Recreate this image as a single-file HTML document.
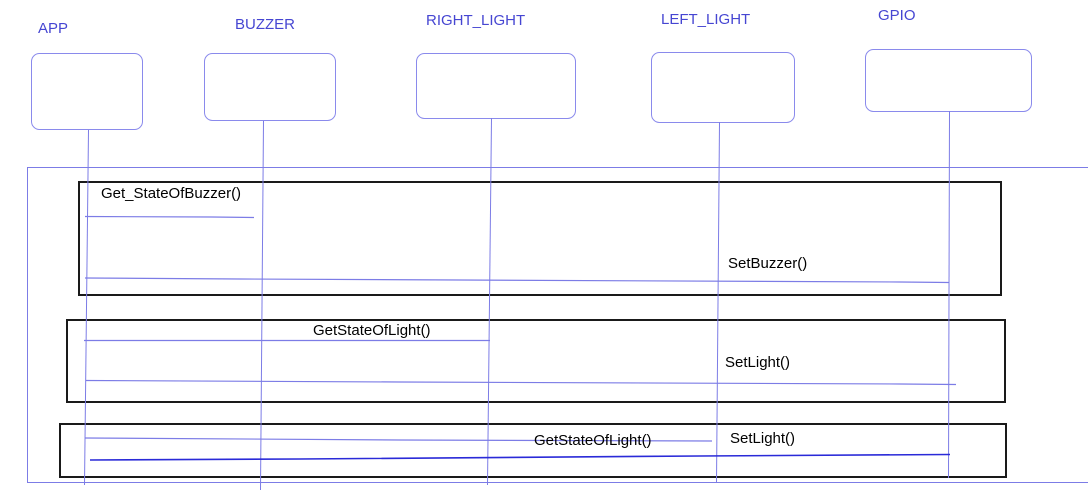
<!DOCTYPE html>
<html><head><meta charset="utf-8"><style>
html,body{margin:0;padding:0;background:#fff;width:1088px;height:494px;overflow:hidden}
svg{display:block}
text{font-family:"Liberation Sans",sans-serif}
</style></head><body>
<svg width="1088" height="494" viewBox="0 0 1088 494">
<g fill="#4646d2" font-size="15">
<text x="38" y="33">APP</text>
<text x="235" y="29">BUZZER</text>
<text x="426" y="25">RIGHT_LIGHT</text>
<text x="661" y="24">LEFT_LIGHT</text>
<text x="878" y="20">GPIO</text>
</g>
<g fill="none" stroke="#8a8aec" stroke-width="1">
<rect x="31.5" y="53.5" width="111" height="76" rx="8"/>
<rect x="204.5" y="53.5" width="131" height="67" rx="8"/>
<rect x="416.5" y="53.5" width="159" height="65" rx="8"/>
<rect x="651.5" y="52.5" width="143" height="70" rx="8"/>
<rect x="865.5" y="49.5" width="166" height="62" rx="8"/>
</g>
<g stroke="#7c7ce6" stroke-width="1" fill="none">
<path d="M27.5 482.5 V167.5 H1088"/>
<path d="M27 482.5 H1088"/>
</g>
<g fill="none" stroke="#1a1a1a" stroke-width="2">
<rect x="79" y="182" width="922" height="113"/>
<rect x="67" y="320" width="938" height="82"/>
<rect x="60" y="424" width="946" height="53"/>
</g>
<g stroke="#7c7ce6" stroke-width="1" fill="none">
<path d="M88.5 130 L84.5 485"/>
<path d="M263.5 121 L260.5 490"/>
<path d="M491.5 118 L487.5 485"/>
<path d="M719.5 122 L716.5 483"/>
<path d="M949.5 111 L948.5 478"/>
</g>
<g stroke="#7c7ce6" stroke-width="1.2" fill="none">
<path d="M85 216.5 L212 217 L254 217.5"/>
<path d="M85 278 L240 279 L460 280 L900 282 L949 282.5"/>
<path d="M84 340.5 L490 340.5"/>
<path d="M86 380.5 L400 382 L900 384 L956 384.5"/>
<path d="M85 438 L400 440 L712 441"/>
</g>
<path d="M90 460 L300 459 L700 456 L950 454.5" stroke="#2a2ad8" stroke-width="1.6" fill="none"/>
<g fill="#000" font-size="15">
<text x="101" y="198">Get_StateOfBuzzer()</text>
<text x="728" y="268">SetBuzzer()</text>
<text x="313" y="335">GetStateOfLight()</text>
<text x="725" y="367">SetLight()</text>
<text x="534" y="445">GetStateOfLight()</text>
<text x="730" y="443">SetLight()</text>
</g>
</svg>
</body></html>
